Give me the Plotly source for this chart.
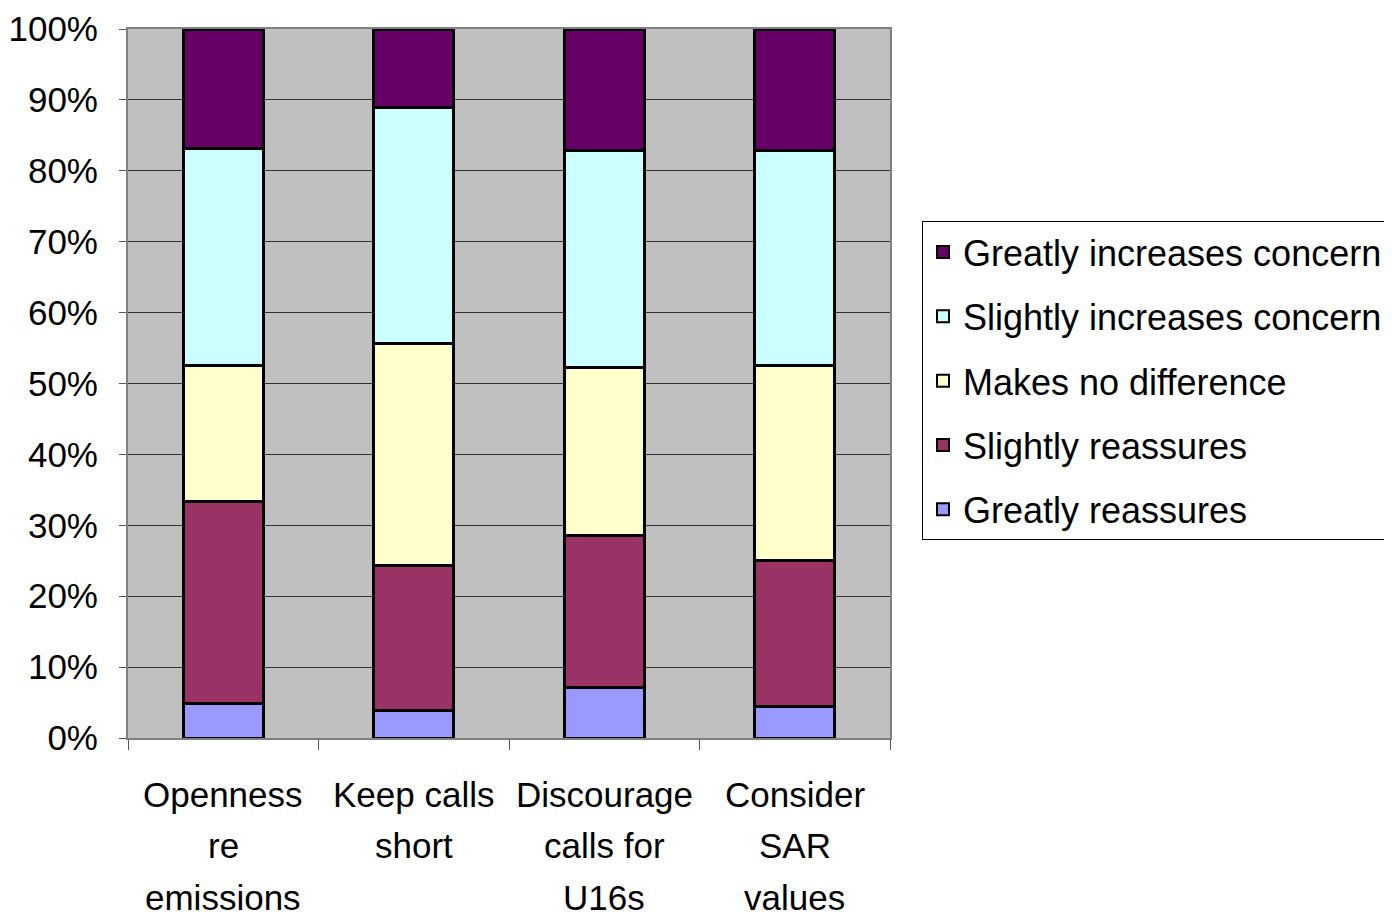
import plotly.graph_objects as go

categories = ["Openness re emissions", "Keep calls short", "Discourage calls for U16s", "Consider SAR values"]
category_lines = [["Openness", "re", "emissions"], ["Keep calls", "short"], ["Discourage", "calls for", "U16s"], ["Consider", "SAR", "values"]]

series_names = ["Greatly reassures", "Slightly reassures", "Makes no difference",
                "Slightly increases concern", "Greatly increases concern"]
greatly_reassures = [4.8, 3.9, 7.1, 4.4]
slightly_reassures = [28.5, 20.4, 21.4, 20.7]
makes_no_difference = [19.3, 31.4, 23.7, 27.5]
slightly_increases = [30.6, 33.2, 30.6, 30.2]
greatly_increases = [16.8, 11.1, 17.2, 17.2]
series_values = [greatly_reassures, slightly_reassures, makes_no_difference,
                 slightly_increases, greatly_increases]
colors = ["#9999FF", "#993366", "#FFFFCC", "#CCFFFF", "#660066"]

tick_vals = list(range(0, 101, 10))
tick_text = [f"{v}%" for v in tick_vals]

FONT = "Liberation Sans, Arial, sans-serif"

fig = go.Figure()
n = len(series_names)
for i, (name, vals, col) in enumerate(zip(series_names, series_values, colors)):
    fig.add_trace(go.Bar(
        x=categories, y=vals, name=name, legendgroup=name, legendrank=n - i,
        marker=dict(color=col, line=dict(color="black", width=3)),
    ))

annotations = []
for cat, lines in zip(categories, category_lines):
    for i, ln in enumerate(lines):
        annotations.append(dict(
            x=cat, xref="x", y=0, yref="paper", text=ln, showarrow=False,
            yanchor="middle", xanchor="center", yshift=-56 - 51.5 * i,
            font=dict(family=FONT, size=35, color="black"),
        ))

fig.update_layout(
    barmode="stack",
    bargap=0.58,
    width=1392, height=916,
    margin=dict(l=120, r=510, t=21, b=186, pad=0, autoexpand=False),
    paper_bgcolor="white",
    plot_bgcolor="#C0C0C0",
    font=dict(family=FONT, size=35, color="black"),
    showlegend=True,
    legend=dict(
        x=1.042, xanchor="left", y=0.729, yanchor="top",
        traceorder="grouped", tracegroupgap=14.5,
        bordercolor="black", borderwidth=1, bgcolor="white",
        font=dict(family=FONT, size=36, color="black"),
        itemsizing="constant",
    ),
    annotations=annotations,
)

fig.update_yaxes(
    range=[0, 100], tickvals=tick_vals, ticktext=tick_text,
    showgrid=True, gridcolor="#333333", gridwidth=1,
    ticks="outside", ticklen=7, tickcolor="#555555",
    showline=True, linecolor="#808080", linewidth=2, mirror=True,
    ticklabelstandoff=14, zeroline=False, automargin=False,
    tickfont=dict(family=FONT, size=35, color="black"),
)
fig.update_xaxes(
    showticklabels=False, tickson="boundaries",
    ticks="outside", ticklen=10, tickcolor="#555555",
    showline=True, linecolor="#808080", linewidth=2, mirror=True,
    showgrid=False, automargin=False,
)

fig.write_html("out.html")
